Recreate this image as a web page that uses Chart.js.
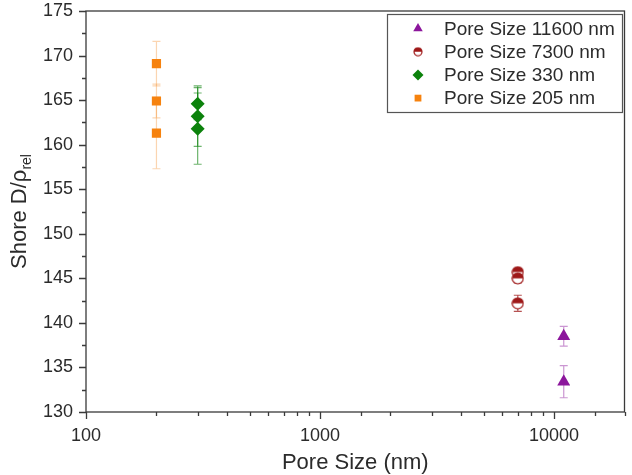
<!DOCTYPE html><html lang="en"><head>
    <meta charset="UTF-8">
    <title>Shore D vs pore size</title>
    <script src="https://cdn.jsdelivr.net/npm/chart.js@4.4.0/dist/chart.umd.min.js"></script>
    <style>
      body { margin: 0; background: #fff; }
    </style>
  </head>
  <body>
    <canvas id="myChart" width="632" height="475"></canvas>

    <script>
      // values
      const seriesLabels = ['Pore Size 11600 nm', 'Pore Size 7300 nm', 'Pore Size 330 nm', 'Pore Size 205 nm'];
      const seriesX = [11000, 7000, 300, 200];
      const shore11600 = [138.5, 133.4];
      const err11600 = [1.1, 1.8];
      const shore7300 = [145.7, 145.0, 142.2];
      const err7300 = [0.3, 0.5, 0.9];
      const shore330 = [164.6, 163.2, 161.8];
      const err330 = [1.8, 3.4, 4.0];
      const shore205 = [169.1, 164.9, 161.3];
      const err205 = [2.5, 1.9, 4.0];
      const xTickLabels = [100, 1000, 10000];

      const FONT = "'Liberation Sans', Arial, sans-serif";
      const TEXT = '#2b2b2b';

      // half filled circle marker (7300 nm)
      function halfCircle(r, color) {
        const c = document.createElement('canvas');
        const s = Math.ceil(r * 2 + 2);
        c.width = s; c.height = s;
        const g = c.getContext('2d');
        const m = s / 2;
        g.beginPath(); g.arc(m, m, r, 0, Math.PI * 2); g.fillStyle = '#fff'; g.fill();
        g.beginPath(); g.arc(m, m, r, Math.PI, Math.PI * 2); g.closePath(); g.fillStyle = color; g.fill();
        g.beginPath(); g.arc(m, m, r, 0, Math.PI * 2); g.lineWidth = 1.2; g.strokeStyle = color; g.stroke();
        return c;
      }

      const purple = 'rgb(140, 22, 156)';
      const red = 'rgb(158, 24, 24)';
      const green = 'rgb(12, 130, 12)';
      const orange = 'rgb(246, 130, 14)';

      const series = [
        { ys: shore11600, errs: err11600, color: purple, bar: 'rgba(140, 22, 156, 0.45)', style: 'triangle', r: 7.5, lr: 5.5 },
        { ys: shore7300, errs: err7300, color: red, bar: 'rgba(158, 24, 24, 0.75)', style: halfCircle(5.5, red), legendStyle: halfCircle(4, red), r: 6, lr: 4 },
        { ys: shore330, errs: err330, color: green, bar: 'rgba(12, 130, 12, 0.6)', style: 'rectRot', r: 7, lr: 5.5 },
        { ys: shore205, errs: err205, color: orange, bar: 'rgba(246, 150, 60, 0.4)', style: 'rect', r: 6.5, lr: 4.8 }
      ];

      const datasets = series.map((s, k) => ({
        label: seriesLabels[k],
        data: s.ys.map(v => ({ x: seriesX[k], y: v })),
        errors: s.errs,
        barColor: s.bar,
        pointStyle: s.style,
        legendStyle: s.legendStyle || s.style,
        legendRadius: s.lr,
        pointRadius: s.r,
        pointHoverRadius: s.r,
        pointBackgroundColor: s.color,
        pointBorderColor: s.color,
        pointBorderWidth: 0,
        showLine: false
      }));

      const errorBars = {
        id: 'errorBars',
        beforeDatasetsDraw(chart) {
          const { ctx, scales: { x, y } } = chart;
          ctx.save();
          ctx.lineWidth = 1.2;
          chart.data.datasets.forEach(ds => {
            ctx.strokeStyle = ds.barColor;
            ds.data.forEach((p, i) => {
              const px = x.getPixelForValue(p.x);
              const t = y.getPixelForValue(p.y + ds.errors[i]);
              const b = y.getPixelForValue(p.y - ds.errors[i]);
              ctx.beginPath();
              ctx.moveTo(px, t); ctx.lineTo(px, b);
              ctx.moveTo(px - 4, t); ctx.lineTo(px + 4, t);
              ctx.moveTo(px - 4, b); ctx.lineTo(px + 4, b);
              ctx.stroke();
            });
          });
          ctx.restore();
        }
      };

      const frame = {
        id: 'frame',
        afterDraw(chart) {
          const { ctx, chartArea: a, scales: { x, y } } = chart;
          ctx.save();
          ctx.strokeStyle = '#3a3a3a';
          ctx.lineWidth = 1.3;
          ctx.strokeRect(a.left, a.top, a.right - a.left, a.bottom - a.top);

          // tick marks, outward
          ctx.beginPath();
          y.ticks.forEach((t, i) => {
            const py = Math.round(y.getPixelForTick(i)) + 0.5;
            const len = t.value % 5 === 0 ? 7 : 4;
            ctx.moveTo(a.left - len, py); ctx.lineTo(a.left, py);
          });
          x.ticks.forEach((t, i) => {
            const px = Math.round(x.getPixelForTick(i)) + 0.5;
            const len = xTickLabels.includes(t.value) ? 7 : 4;
            ctx.moveTo(px, a.bottom); ctx.lineTo(px, a.bottom + len);
          });
          ctx.stroke();

          // axis titles
          ctx.fillStyle = TEXT;
          ctx.font = '22px ' + FONT;
          ctx.textAlign = 'center';
          ctx.textBaseline = 'alphabetic';
          ctx.fillText('Pore Size (nm)', (a.left + a.right) / 2, 469);

          ctx.translate(26, (a.top + a.bottom) / 2);
          ctx.rotate(-Math.PI / 2);
          const main = 'Shore D/ρ';
          const sub = 'rel';
          ctx.font = '22px ' + FONT;
          const w1 = ctx.measureText(main).width;
          ctx.font = '14px ' + FONT;
          const w2 = ctx.measureText(sub).width;
          const start = -(w1 + w2) / 2;
          ctx.textAlign = 'left';
          ctx.font = '22px ' + FONT;
          ctx.fillText(main, start, 0);
          ctx.font = '14px ' + FONT;
          ctx.fillText(sub, start + w1, 5);
          ctx.restore();

          // legend box
          ctx.save();
          ctx.strokeStyle = '#555';
          ctx.lineWidth = 1.2;
          ctx.strokeRect(387.5, 14.5, 235, 98);
          ctx.font = '19px ' + FONT;
          ctx.textAlign = 'left';
          ctx.textBaseline = 'middle';
          chart.data.datasets.forEach((ds, k) => {
            const ly = 28.5 + k * 23.2;
            ctx.fillStyle = ds.pointBackgroundColor;
            ctx.strokeStyle = ds.pointBorderColor;
            Chart.helpers.drawPoint(ctx, { pointStyle: ds.legendStyle, radius: ds.legendRadius, rotation: 0, borderWidth: 0 }, 418, ly);
            ctx.fillStyle = TEXT;
            ctx.fillText(ds.label, 444, ly + 1);
          });
          ctx.restore();
        }
      };

      const ctx = document.getElementById('myChart').getContext('2d');
      const myChart = new Chart(ctx, {
        type: 'scatter',
        data: { datasets },
        options: {
          responsive: false,
          animation: false,
          layout: { padding: { top: 11, right: 7, left: 0, bottom: 0 } },
          plugins: { legend: { display: false }, tooltip: { enabled: false } },
          scales: {
            x: {
              type: 'logarithmic',
              min: 100,
              max: 20000,
              grid: { display: false, drawTicks: false },
              border: { display: false },
              afterFit: s => { s.height = 63; s.paddingLeft = 0; s.paddingRight = 0; },
              ticks: {
                autoSkip: false,
                maxRotation: 0,
                padding: 13,
                color: TEXT,
                font: { family: FONT, size: 18 },
                callback: v => xTickLabels.includes(v) ? String(v) : ''
              }
            },
            y: {
              min: 130,
              max: 175,
              grid: { display: false, drawTicks: false },
              border: { display: false },
              afterFit: s => { s.width = 86; s.paddingTop = 0; s.paddingBottom = 0; },
              ticks: {
                stepSize: 2.5,
                autoSkip: false,
                padding: 13,
                color: TEXT,
                font: { family: FONT, size: 18 },
                callback: v => v % 5 === 0 ? String(v) : ''
              }
            }
          }
        },
        plugins: [errorBars, frame]
      });
    </script>
  
</body></html>
